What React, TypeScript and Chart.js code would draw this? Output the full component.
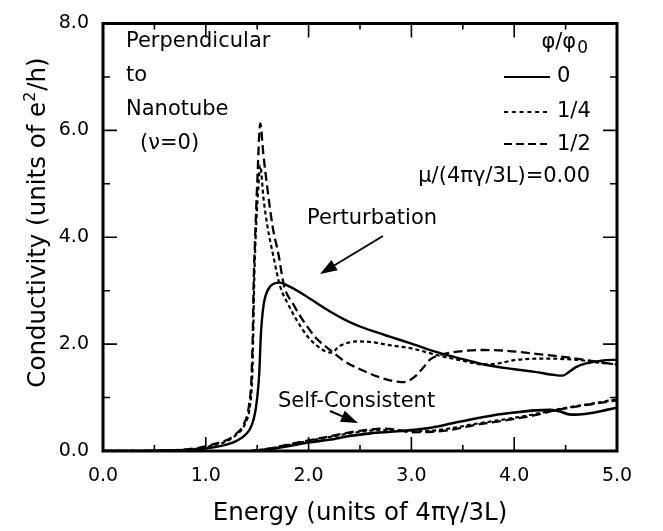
import React, { useEffect, useRef } from "react";
import { Chart, registerables } from "chart.js";
Chart.register(...registerables);

// ---- axis ticks ----
const xMajorTicks = [0, 1, 2, 3, 4, 5];
const xMinorTicks = [0.5, 1.5, 2.5, 3.5, 4.5];
const yMajorTicks = [2, 4, 6];
const yMinorTicks = [1, 3, 5, 7];

// ---- Perturbation, phi/phi0 = 0 (solid) ----
const pertE0 = [0, 0.5, 0.8, 1.0, 1.2, 1.3, 1.4, 1.45, 1.48, 1.5, 1.52, 1.535, 1.56, 1.6, 1.66, 1.72, 1.8, 1.95, 2.1, 2.2, 2.37, 2.5, 2.6, 2.79, 3.0, 3.28, 3.5, 3.73, 4.0, 4.2, 4.4, 4.47, 4.52, 4.6, 4.7, 4.85, 5.0];
const pertG0 = [0, 0.005, 0.02, 0.05, 0.12, 0.19, 0.33, 0.5, 0.72, 1.0, 1.45, 2.15, 2.7, 3.0, 3.13, 3.15, 3.09, 2.93, 2.74, 2.62, 2.44, 2.33, 2.26, 2.14, 2.01, 1.83, 1.72, 1.61, 1.53, 1.48, 1.42, 1.41, 1.46, 1.57, 1.64, 1.69, 1.71];

// ---- Perturbation, phi/phi0 = 1/4 (dotted) ----
const pertE14 = [0, 0.6, 0.9, 1.1, 1.2, 1.3, 1.38, 1.43, 1.452, 1.463, 1.47, 1.485, 1.51, 1.53, 1.56, 1.6, 1.657, 1.72, 1.8, 1.89, 2.0, 2.14, 2.22, 2.3, 2.47, 2.6, 2.79, 3.0, 3.28, 3.5, 3.7, 3.85, 4.0, 4.3, 4.64, 4.8, 5.0];
const pertG14 = [0, 0.01, 0.04, 0.12, 0.18, 0.31, 0.5, 0.85, 1.4, 2.3, 3.1, 4.0, 4.9, 5.34, 4.75, 4.2, 3.65, 3.1, 2.75, 2.43, 2.12, 1.89, 1.84, 1.96, 2.05, 2.04, 1.98, 1.92, 1.78, 1.69, 1.62, 1.64, 1.7, 1.73, 1.7, 1.66, 1.62];

// ---- Perturbation, phi/phi0 = 1/2 (dashed) ----
const pertE12 = [0, 0.6, 0.9, 1.1, 1.2, 1.3, 1.37, 1.42, 1.445, 1.458, 1.465, 1.48, 1.5, 1.53, 1.56, 1.6, 1.65, 1.71, 1.76, 1.85, 1.95, 2.08, 2.21, 2.35, 2.5, 2.69, 2.82, 2.9, 2.97, 3.05, 3.12, 3.18, 3.25, 3.35, 3.5, 3.67, 3.9, 4.15, 4.4, 4.64, 4.8, 5.0];
const pertG12 = [0, 0.01, 0.05, 0.14, 0.2, 0.33, 0.5, 0.85, 1.4, 2.3, 3.1, 4.0, 5.0, 6.13, 5.55, 4.9, 4.2, 3.65, 3.1, 2.75, 2.43, 2.1, 1.89, 1.68, 1.53, 1.38, 1.31, 1.29, 1.31, 1.42, 1.57, 1.71, 1.78, 1.83, 1.87, 1.89, 1.88, 1.83, 1.78, 1.72, 1.67, 1.62];

// ---- Self-consistent, phi/phi0 = 0 (solid) ----
const scE0 = [1.45, 1.6, 1.8, 2.0, 2.2, 2.4, 2.6, 2.8, 3.0, 3.2, 3.4, 3.6, 3.8, 4.0, 4.2, 4.35, 4.45, 4.52, 4.6, 4.75, 4.9, 5.0];
const scG0 = [0, 0.03, 0.09, 0.16, 0.21, 0.28, 0.33, 0.36, 0.39, 0.44, 0.52, 0.6, 0.67, 0.72, 0.76, 0.77, 0.74, 0.69, 0.68, 0.71, 0.77, 0.81];

// ---- Self-consistent, phi/phi0 = 1/4 (dotted) ----
const scE14 = [1.45, 1.6, 1.8, 2.0, 2.2, 2.4, 2.6, 2.8, 3.0, 3.2, 3.4, 3.6, 3.8, 4.0, 4.2, 4.4, 4.6, 4.8, 5.0];
const scG14 = [0, 0.04, 0.11, 0.19, 0.26, 0.33, 0.38, 0.39, 0.37, 0.38, 0.43, 0.5, 0.56, 0.62, 0.69, 0.77, 0.84, 0.9, 0.97];

// ---- Self-consistent, phi/phi0 = 1/2 (dashed) ----
const scE12 = [1.45, 1.6, 1.8, 2.0, 2.2, 2.4, 2.6, 2.75, 2.9, 3.0, 3.2, 3.4, 3.6, 3.8, 4.0, 4.2, 4.4, 4.6, 4.8, 5.0];
const scG12 = [0, 0.04, 0.12, 0.2, 0.27, 0.35, 0.4, 0.42, 0.38, 0.35, 0.36, 0.4, 0.48, 0.54, 0.6, 0.67, 0.76, 0.83, 0.89, 0.95];

const FONT = '"DejaVu Sans", "Liberation Sans", Arial, sans-serif';
const f = (s: number) => `${s}px ${FONT}`;

const pts = (xs: number[], ys: number[]) => xs.map((x, i) => ({ x, y: ys[i] }));

const SOLID: number[] = [];
const DOTTED = [4, 3];
const DASHED = [9, 4.5];

function drawArrow(ctx: CanvasRenderingContext2D, x1: number, y1: number, x2: number, y2: number) {
  const dx = x2 - x1, dy = y2 - y1;
  const L = Math.hypot(dx, dy);
  const ux = dx / L, uy = dy / L;
  const head = 17, hw = 6;
  const bx = x2 - ux * head, by = y2 - uy * head;
  ctx.beginPath();
  ctx.moveTo(x1, y1);
  ctx.lineTo(bx + ux * 2, by + uy * 2);
  ctx.lineWidth = 2;
  ctx.stroke();
  ctx.beginPath();
  ctx.moveTo(x2, y2);
  ctx.lineTo(bx - uy * hw, by + ux * hw);
  ctx.lineTo(bx + uy * hw, by - ux * hw);
  ctx.closePath();
  ctx.fill();
}

const decor = {
  id: "decor",
  afterDatasetsDraw(chart: any) {
    const { ctx, chartArea: ca, scales } = chart;
    const xs = scales.x, ys = scales.y;
    ctx.save();
    ctx.strokeStyle = "#000";
    ctx.fillStyle = "#000";
    ctx.setLineDash([]);
    ctx.lineWidth = 1.6;
    ctx.beginPath();
    const xt = (vals: number[], len: number) => {
      for (const v of vals) {
        const p = xs.getPixelForValue(v);
        ctx.moveTo(p, ca.bottom); ctx.lineTo(p, ca.bottom - len);
        ctx.moveTo(p, ca.top); ctx.lineTo(p, ca.top + len);
      }
    };
    const yt = (vals: number[], len: number) => {
      for (const v of vals) {
        const p = ys.getPixelForValue(v);
        ctx.moveTo(ca.left, p); ctx.lineTo(ca.left + len, p);
        ctx.moveTo(ca.right, p); ctx.lineTo(ca.right - len, p);
      }
    };
    xt(xMajorTicks, 14); xt(xMinorTicks, 6);
    yt(yMajorTicks, 14); yt(yMinorTicks, 7);
    ctx.stroke();
    ctx.lineWidth = 3;
    ctx.strokeRect(ca.left, ca.top, ca.right - ca.left, ca.bottom - ca.top);

    // ---- texts ----
    ctx.textBaseline = "alphabetic";
    ctx.font = f(21);
    ctx.textAlign = "left";
    ctx.fillText("Perpendicular", 126, 47);
    ctx.fillText("to", 126, 81);
    ctx.fillText("Nanotube", 126, 115);
    ctx.fillText("(\u03BD=0)", 140, 149);

    // legend header phi/phi0
    ctx.font = f(17);
    const w0 = ctx.measureText("0").width;
    ctx.fillText("0", 588 - w0, 53);
    ctx.font = f(21);
    ctx.textAlign = "right";
    ctx.fillText("\u03C6/\u03C6", 588 - w0 - 1, 48);

    ctx.textAlign = "left";
    ctx.fillText("0", 557, 82);
    ctx.fillText("1/4", 557, 117);
    ctx.fillText("1/2", 557, 150);
    ctx.textAlign = "right";
    ctx.fillText("\u03BC/(4\u03C0\u03B3/3L)=0.00", 590, 182);

    // legend samples
    const sample = (y: number, dash: number[], w: number, x2: number) => {
      ctx.beginPath();
      ctx.setLineDash(dash);
      ctx.lineWidth = w;
      ctx.moveTo(504, y); ctx.lineTo(x2, y);
      ctx.stroke();
    };
    sample(77, SOLID, 2.2, 550);
    sample(112, [4, 3.8], 2, 547);
    sample(144, [8, 4], 2, 547);
    ctx.setLineDash([]);

    // curve annotations
    ctx.textAlign = "left";
    ctx.fillText("Perturbation", 307, 224);
    ctx.fillText("Self-Consistent", 278, 407);
    drawArrow(ctx, 383, 236, 320, 274);
    drawArrow(ctx, 330, 411, 358, 423);

    // axis titles
    ctx.font = f(24.5);
    ctx.textAlign = "center";
    ctx.fillText("Energy (units of 4\u03C0\u03B3/3L)", 360, 520);

    ctx.save();
    ctx.translate(45, 222.5);
    ctx.rotate(-Math.PI / 2);
    const p1 = "Conductivity (units of e";
    const p2 = "2";
    const p3 = "/h)";
    ctx.font = f(24.5);
    const w1 = ctx.measureText(p1).width;
    const w3 = ctx.measureText(p3).width;
    ctx.font = f(16);
    const w2 = ctx.measureText(p2).width;
    const total = w1 + w2 + w3 + 1;
    let cx = -total / 2;
    ctx.textAlign = "left";
    ctx.font = f(24.5);
    ctx.fillText(p1, cx, 0);
    cx += w1;
    ctx.font = f(16);
    ctx.fillText(p2, cx, -10);
    cx += w2 + 1;
    ctx.font = f(24.5);
    ctx.fillText(p3, cx, 0);
    ctx.restore();

    ctx.restore();
  },
};

export default function App() {
  const ref = useRef<HTMLCanvasElement | null>(null);
  useEffect(() => {
    if (!ref.current) return;
    const ds = (data: any[], dash: number[], w: number) => ({
      data,
      borderColor: "#000",
      backgroundColor: "#000",
      borderWidth: w,
      borderDash: dash,
      pointRadius: 0,
      fill: false,
      cubicInterpolationMode: "monotone" as const,
    });
    const chart = new Chart(ref.current, {
      type: "line",
      data: {
        datasets: [
          ds(pts(pertE0, pertG0), SOLID, 2.4),
          ds(pts(pertE14, pertG14), DOTTED, 2.2),
          ds(pts(pertE12, pertG12), DASHED, 2.3),
          ds(pts(scE0, scG0), SOLID, 2.6),
          ds(pts(scE14, scG14), DOTTED, 2.2),
          ds(pts(scE12, scG12), DASHED, 2.3),
        ],
      },
      options: {
        responsive: false,
        devicePixelRatio: 1,
        animation: false,
        layout: { padding: { left: 0, right: 46, top: 10, bottom: 0 } },
        plugins: { legend: { display: false }, tooltip: { enabled: false } },
        scales: {
          x: {
            type: "linear",
            min: 0,
            max: 5,
            grid: { display: false, drawTicks: false },
            border: { display: false },
            ticks: {
              stepSize: 1,
              autoSkip: false,
              maxRotation: 0,
              padding: 16,
              color: "#000",
              font: { family: FONT, size: 19, lineHeight: 1 },
              callback: (v: any) => Number(v).toFixed(1),
            },
            afterFit: (s: any) => { s.height = 80; },
          },
          y: {
            type: "linear",
            min: 0,
            max: 8,
            grid: { display: false, drawTicks: false },
            border: { display: false },
            ticks: {
              stepSize: 2,
              autoSkip: false,
              padding: 14,
              color: "#000",
              font: { family: FONT, size: 19, lineHeight: 1 },
              callback: (v: any) => Number(v).toFixed(1),
            },
            afterFit: (s: any) => { s.width = 103; },
          },
        },
      },
      plugins: [decor],
    });
    return () => chart.destroy();
  }, []);
  return (
    <div style={{ position: "absolute", left: 0, top: 0, width: 663, height: 531, background: "#fff" }}>
      <canvas ref={ref} width={663} height={531} style={{ display: "block" }} />
    </div>
  );
}
